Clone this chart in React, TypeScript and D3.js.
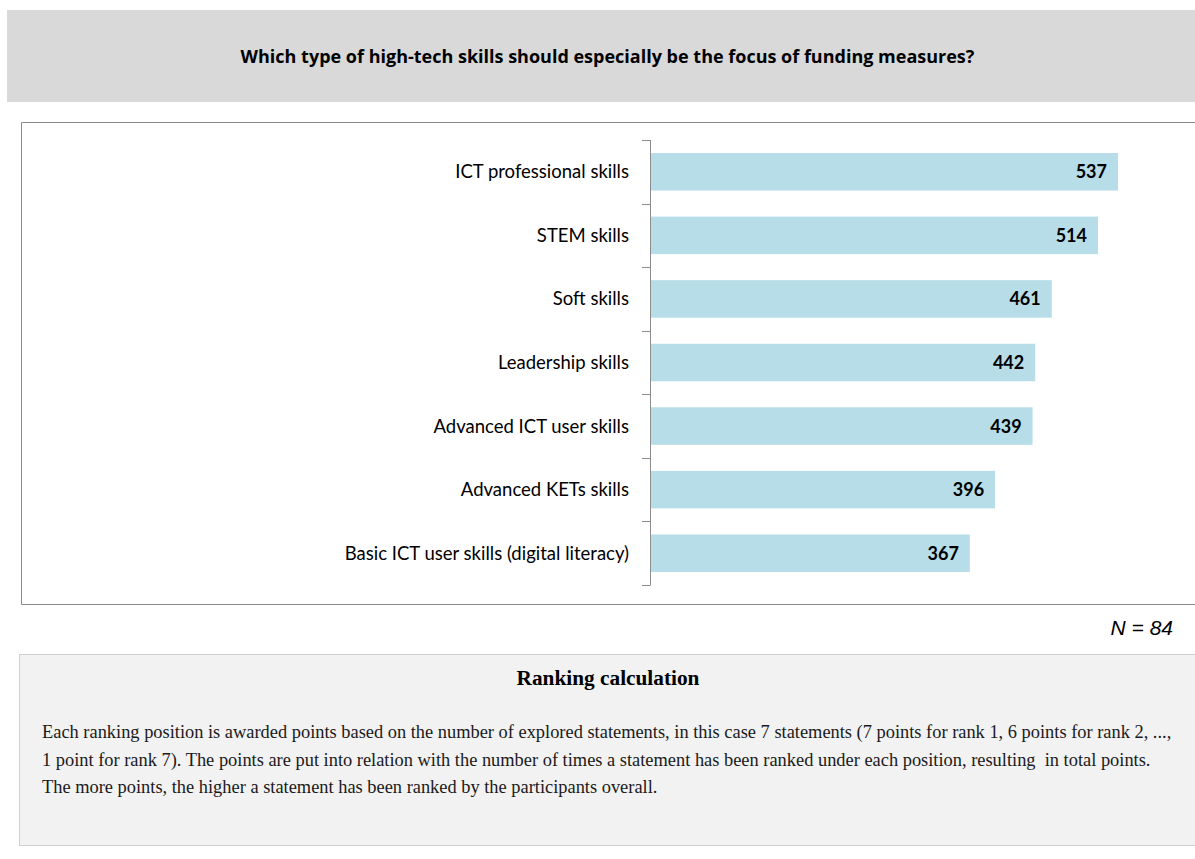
import React from "react";
import * as d3 from "d3";

const title = "Which type of high-tech skills should especially be the focus of funding measures?";
const categories = [
  "ICT professional skills",
  "STEM skills",
  "Soft skills",
  "Leadership skills",
  "Advanced ICT user skills",
  "Advanced KETs skills",
  "Basic ICT user skills (digital literacy)",
];
const values = [537, 514, 461, 442, 439, 396, 367];
const nLabel = "N = 84";
const noteTitle = "Ranking calculation";
const noteLines = [
  "Each ranking position is awarded points based on the number of explored statements, in this case 7 statements (7 points for rank 1, 6 points for rank 2, ...,",
  "1 point for rank 7). The points are put into relation with the number of times a statement has been ranked under each position, resulting  in total points.",
  "The more points, the higher a statement has been ranked by the participants overall.",
];

const W = 1195;
const H = 859;

export default function App() {
  const axisX = 650;
  const x = d3.scaleLinear().domain([0, 537]).range([axisX, 1118]);
  const y = d3
    .scaleBand<string>()
    .domain(categories)
    .range([140, 585])
    .paddingInner(0.41)
    .paddingOuter(0.205);
  const step = y.step();
  const tickYs = d3.range(categories.length + 1).map((i) => 140 + i * step);
  const data = categories.map((c, i) => ({ c, v: values[i] }));

  return (
    <div style={{ position: "absolute", left: 0, top: 0 }}>
      <svg width={W} height={H} style={{ display: "block" }}>
        <rect x={0} y={0} width={W} height={H} fill="#ffffff" />
        {/* title box */}
        <rect x={7} y={10} width={W - 7} height={92} fill="#d9d9d9" />
        <text
          x={607.5}
          y={63}
          textAnchor="middle"
          fontFamily="'Open Sans', Lato, sans-serif"
          fontWeight="bold"
          fontSize={18}
          fill="#000"
        >
          {title}
        </text>
        {/* chart box */}
        <path d={`M${W},122.5 H21.5 V604.5 H${W}`} fill="none" stroke="#8a8a8a" strokeWidth={1} />
        {/* bars */}
        {data.map((d) => (
          <rect
            key={d.c}
            x={x(0)}
            y={y(d.c)!}
            width={x(d.v) - x(0)}
            height={y.bandwidth()}
            fill="#b7dde8"
          />
        ))}
        {/* axis */}
        <line x1={axisX + 0.5} x2={axisX + 0.5} y1={140} y2={585} stroke="#8c8c8c" strokeWidth={1} />
        {tickYs.map((t, i) => (
          <line key={i} x1={642} x2={axisX + 0.5} y1={Math.round(t) + 0.5} y2={Math.round(t) + 0.5} stroke="#8c8c8c" strokeWidth={1} />
        ))}
        {/* category labels */}
        {data.map((d) => (
          <text
            key={"l" + d.c}
            x={629}
            y={y(d.c)! + y.bandwidth() / 2 + 6.5}
            textAnchor="end"
            fontFamily="Lato, 'Open Sans', sans-serif"
            fontSize={18.5}
            fill="#000"
          >
            {d.c}
          </text>
        ))}
        {/* value labels */}
        {data.map((d) => (
          <text
            key={"v" + d.c}
            x={x(d.v) - 11}
            y={y(d.c)! + y.bandwidth() / 2 + 6.5}
            textAnchor="end"
            fontFamily="Lato, 'Open Sans', sans-serif"
            fontWeight="bold"
            fontSize={18}
            fill="#000"
          >
            {d.v}
          </text>
        ))}
        {/* N label */}
        <text
          x={1173}
          y={635}
          textAnchor="end"
          fontFamily="'Liberation Sans', Arial, sans-serif"
          fontStyle="italic"
          fontSize={21}
          fill="#000"
        >
          {nLabel}
        </text>
        {/* note box */}
        <rect x={19.5} y={654.5} width={W - 19} height={191} fill="#f2f2f2" stroke="#d0d0d0" strokeWidth={1} />
        <text
          x={608}
          y={685}
          textAnchor="middle"
          fontFamily="'Liberation Serif', 'Times New Roman', serif"
          fontWeight="bold"
          fontSize={21.3}
          fill="#000"
        >
          {noteTitle}
        </text>
        {noteLines.map((l, i) => (
          <text
            key={i}
            x={42}
            y={738 + i * 27.5}
            fontFamily="'Liberation Serif', 'Times New Roman', serif"
            fontSize={18.4}
            fill="#1a1a1a"
            style={{ whiteSpace: "pre" }}
          >
            {l}
          </text>
        ))}
      </svg>
    </div>
  );
}
